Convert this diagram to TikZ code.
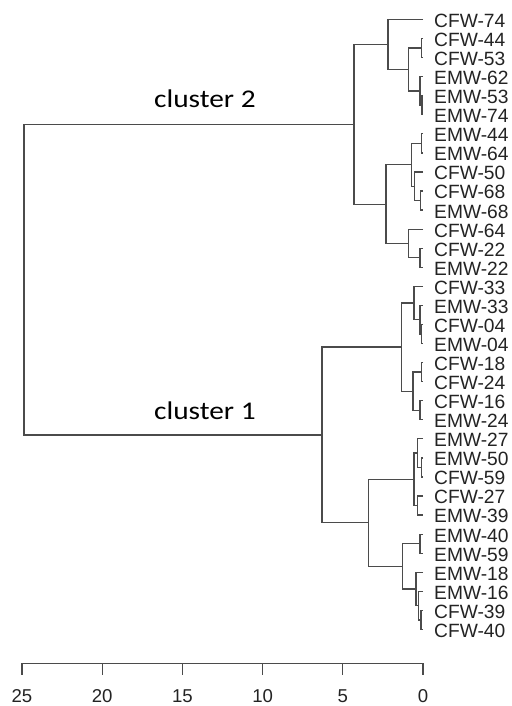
\documentclass[tikz,border=0pt]{standalone}
\usepackage{fontspec}
\setmainfont{Liberation Sans}
\newfontfamily\clfont{Carlito}
\usetikzlibrary{calc}
\definecolor{linkgray}{RGB}{75,75,75}
\definecolor{labgray}{RGB}{35,35,35}
\tikzset{
  link/.style={draw=linkgray, line width=1.25pt},
  leaf/.style={anchor=west, inner sep=0pt, text=labgray, font=\fontsize{19.2}{20}\selectfont},
  ticklab/.style={anchor=base, inner sep=0pt, text=labgray, font=\fontsize{18.6}{19}\selectfont},
  clabel/.style={anchor=base west, inner sep=0pt, text=black},
}
\newcommand\mrg[4]{%
  \coordinate (tmpmid) at ($(#3)!0.5!(#4)$);
  \coordinate (tmpx) at (#2,0);
  \coordinate (#1) at (tmpmid -| tmpx);
  \draw[link] (#3) -| (#1) |- (#4);
}
\begin{document}
\begin{tikzpicture}[x=1pt,y=-1pt]
\useasboundingbox (0,0) rectangle (511,706);
\foreach \lab [count=\i from 0] in {CFW-74,CFW-44,CFW-53,EMW-62,EMW-53,EMW-74,EMW-44,EMW-64,CFW-50,CFW-68,EMW-68,CFW-64,CFW-22,EMW-22,CFW-33,EMW-33,CFW-04,EMW-04,CFW-18,CFW-24,CFW-16,EMW-24,EMW-27,EMW-50,CFW-59,CFW-27,EMW-39,EMW-40,EMW-59,EMW-18,EMW-16,CFW-39,CFW-40}{
  \coordinate (t\i) at (423,{19.5+19.06*\i});
  \node[leaf] (n\i) at (434,{20.8+19.06*\i}) {\lab};
}
% cluster 2
\mrg{C}{421.7}{t1}{t2}
\mrg{E}{422}{t4}{t5}
\mrg{D}{420}{t3}{E}
\mrg{B}{408.3}{C}{D}
\mrg{A}{388}{t0}{B}
\mrg{I}{421.7}{t6}{t7}
\mrg{K}{420.7}{t9}{t10}
\mrg{J}{414.5}{t8}{K}
\mrg{G}{411.7}{I}{J}
\mrg{L}{420}{t12}{t13}
\mrg{H}{408.3}{t11}{L}
\mrg{F}{386}{G}{H}
\mrg{CII}{354}{A}{F}
% cluster 1
\mrg{P}{421.7}{t16}{t17}
\mrg{O}{420}{t15}{P}
\mrg{N}{414}{t14}{O}
\mrg{R}{421.7}{t18}{t19}
\mrg{S}{420}{t20}{t21}
\mrg{Q}{413}{R}{S}
\mrg{M}{401.7}{N}{Q}
\mrg{V}{421.7}{t23}{t24}
\mrg{U}{417.3}{t22}{V}
\mrg{W}{417.3}{t25}{t26}
\mrg{T}{414}{U}{W}
\mrg{Y}{420}{t27}{t28}
\mrg{Z3}{421}{t31}{t32}
\mrg{Z2}{418.5}{t30}{Z3}
\mrg{Z}{416}{t29}{Z2}
\mrg{X}{402.7}{Y}{Z}
\mrg{SUB}{368.3}{T}{X}
\mrg{CI}{322}{M}{SUB}
\mrg{root}{24}{CII}{CI}
% cluster labels
\node[clabel] (c2) at (154,107.3) {\clfont\fontsize{25.5}{26}\selectfont\scalebox{1.15}[1]{cluster 2}};
\node[clabel] (c1) at (154,419.5) {\clfont\fontsize{25.5}{26}\selectfont\scalebox{1.15}[1]{cluster 1}};
% axis
\foreach \v [count=\k from 0] in {25,20,15,10,5,0}{
  \coordinate (ax\k) at ({423-16.04*\v},663.3);
  \coordinate (tk\k) at ({423-16.04*\v},675);
  \draw[link] (ax\k) -- (tk\k);
  \node[ticklab] (lab\k) at ({423-16.04*\v},702) {\v};
}
\draw[link] (ax0) -- (ax5);
\end{tikzpicture}
\end{document}
